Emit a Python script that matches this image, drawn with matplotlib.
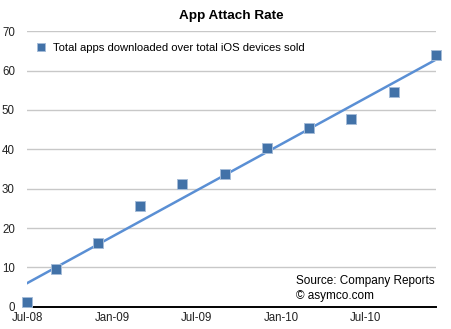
import numpy as np
import matplotlib
matplotlib.use("Agg")
import matplotlib.pyplot as plt
import matplotlib.dates as mdates
from datetime import date

plt.rcParams['font.family'] = ['Liberation Sans', 'DejaVu Sans']

# Data
dates = [date(2008, 7, 1), date(2008, 9, 1), date(2008, 12, 1), date(2009, 3, 1),
         date(2009, 6, 1), date(2009, 9, 1), date(2009, 12, 1), date(2010, 3, 1),
         date(2010, 6, 1), date(2010, 9, 1), date(2010, 12, 1)]
apps_per_device = [1.1, 9.6, 16.1, 25.7, 31.2, 33.7, 40.3, 45.5, 47.8, 54.6, 64.0]
tick_dates = [date(2008, 7, 1), date(2009, 1, 1), date(2009, 7, 1), date(2010, 1, 1), date(2010, 7, 1)]
tick_labels = ["Jul-08", "Jan-09", "Jul-09", "Jan-10", "Jul-10"]

xnum = mdates.date2num(dates)

fig = plt.figure(figsize=(4.51, 3.29), dpi=100)
ax = fig.add_axes([27 / 451, 22.3 / 329, 409 / 451, 275.4 / 329])

# linear trend line
k, b = np.polyfit(xnum, apps_per_device, 1)
ax.plot(xnum, k * xnum + b, color="#5a8fd4", lw=1.8, zorder=2)

ax.plot(xnum, apps_per_device, ls="none", marker="s", ms=6.6, mfc="#4272a8",
        mec="#a5bcd8", mew=0.7, clip_on=False, zorder=3,
        label="Total apps downloaded over total iOS devices sold")

ax.set_xlim(xnum[0], xnum[-1])
ax.set_ylim(0, 70)
ax.set_yticks(range(0, 71, 10))
ax.set_xticks(mdates.date2num(tick_dates))
ax.set_xticklabels(tick_labels)
ax.tick_params(length=0, labelsize=8.3, colors="#222222")
ax.tick_params(axis="y", pad=8.7)
ax.tick_params(axis="x", pad=4)
ax.grid(axis="y", color="#c8c8c8", lw=1)
ax.set_axisbelow(True)
for s in ["left", "right", "top"]:
    ax.spines[s].set_visible(False)
ax.spines["bottom"].set_linewidth(1.4)

ax.set_title("App Attach Rate", fontsize=9.7, fontweight="bold", pad=9)
ax.legend(loc="upper left", bbox_to_anchor=(-0.005, 0.985), frameon=False, fontsize=8.1,
          handletextpad=0.35, handlelength=1.4, borderaxespad=0.3, markerscale=0.85)

ax.text(296 / 451, (329 - 299) / 329, "Source: Company Reports\n\u00a9 asymco.com",
        transform=fig.transFigure, fontsize=8.5, va="baseline", ha="left", linespacing=1.35)

fig.savefig("out.png", dpi=100)
